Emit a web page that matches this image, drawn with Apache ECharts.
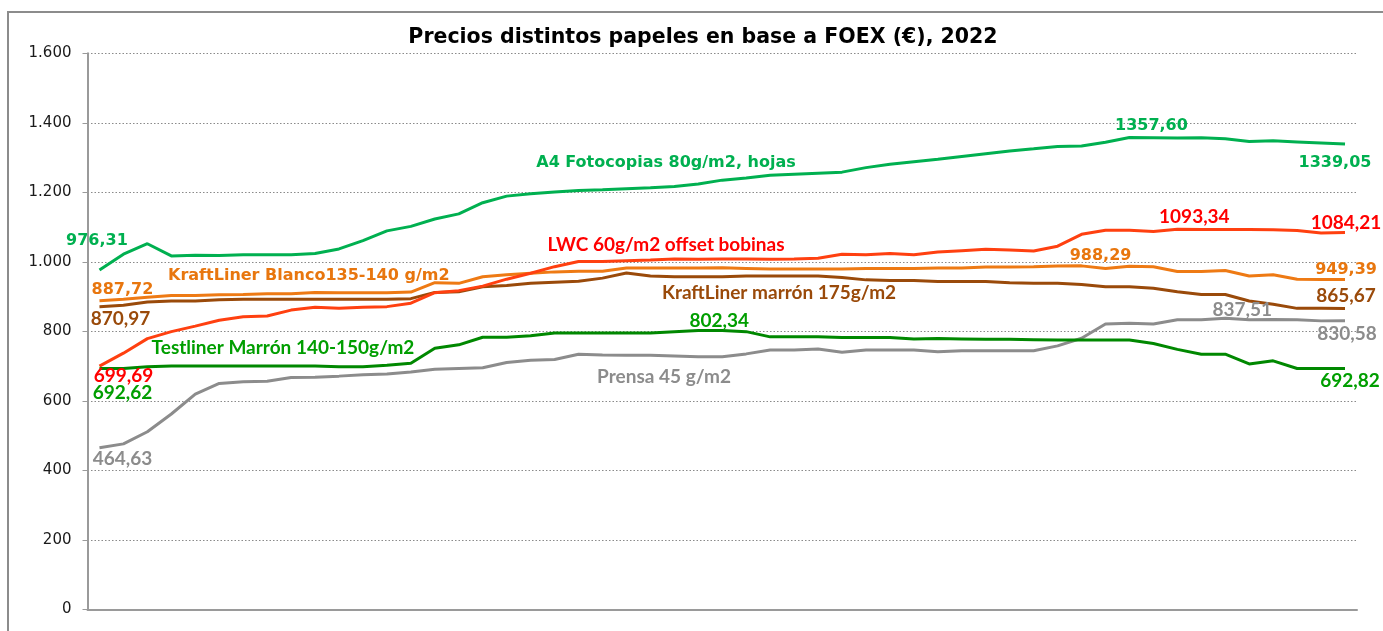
<!DOCTYPE html>
<html>
<head>
<meta charset="utf-8">
<script src="https://cdn.jsdelivr.net/npm/echarts@6/dist/echarts.min.js"></script>
<style>
html,body{margin:0;padding:0;background:#fff;}
#chart{width:1383px;height:631px;}
</style>
</head>
<body>
<div id="chart"></div>
<script>
const categories = ['S1','S2','S3','S4','S5','S6','S7','S8','S9','S10','S11','S12','S13','S14','S15','S16','S17','S18','S19','S20','S21','S22','S23','S24','S25','S26','S27','S28','S29','S30','S31','S32','S33','S34','S35','S36','S37','S38','S39','S40','S41','S42','S43','S44','S45','S46','S47','S48','S49','S50','S51','S52','S53'];

const a4Fotocopias = [976.31,1022,1052,1017,1019,1018,1020,1020,1020,1024,1037,1061,1089,1102,1123,1138,1170,1189,1196,1201,1205,1207,1210,1213,1217,1224,1235,1241,1249,1252,1255,1258,1271,1281,1288,1295,1303,1311,1319,1325,1332,1333,1344,1357.60,1357,1356,1357,1354,1346,1348,1345,1342,1339.05];
const lwc = [699.69,737,779,799,815,832,842,844,861,869,866,869,871,881,911,917,930,950,967,986,1001,1001,1003,1005,1008,1007,1008,1008,1007,1008,1010,1022,1020,1024,1020,1028,1032,1036,1034,1031,1045,1079,1091,1091,1087,1093.34,1093,1093,1093,1092,1090,1083,1084.21];
const kraftBlanco = [887.72,892,898,903,903,905,906,908,908,912,911,911,911,913,940,938,957,963,967,971,973,973,982,982,982,982,983,981,979,979,979,979,981,981,981,982,982,985,985,986,988,988.29,981,987,986,972,972,975,959,963,950,949,949.39];
const kraftMarron = [870.97,875,884,887,887,891,892,892,892,892,892,892,892,894,912,914,928,932,938,941,944,953,968,959,957,957,957,959,959,959,959,955,948,946,946,943,943,943,940,938,938,935,928,928,924,914,906,906,887,878,866,866,865.67];
const testliner = [692.62,693,698,700,700,700,700,700,700,700,698,698,702,708,751,761,783,783,787,795,795,795,795,795,799,802.34,802,799,784,784,784,782,782,782,778,779,778,777,777,776,775,775,775,775,765,748,734,734,706,715,693,693,692.82];
const prensa = [464.63,476,511,562,619,650,655,656,667,668,671,675,677,683,691,693,695,710,717,719,734,732,731,731,729,727,727,735,746,746,749,740,746,746,746,741,744,744,744,744,758,780,821,823,821,833,833,837.51,833,834,833,830,830.58];

const yTicks = [0,200,400,600,800,1000,1200,1400,1600];

const VERD = '"DejaVu Sans", Verdana, sans-serif';
const CALI = 'Lato, "Open Sans", sans-serif';
const CS = 19;

function fmtNum(v){ return v.toFixed(2).replace('.', ','); }
function fmtTick(v){ return v >= 1000 ? Math.floor(v/1000) + '.' + String(v % 1000).padStart(3,'0') : String(v); }

function mp(data, idx, off, color, family, size){
  return {
    coord: [idx, data[idx]], value: data[idx],
    label: {offset: off, color: color, fontFamily: family, fontSize: size, fontWeight: 'bold'}
  };
}
function markPts(items){
  return {
    symbol: 'circle', symbolSize: 1, silent: true, animation: false,
    itemStyle: {color: 'rgba(0,0,0,0)'},
    label: {show: true, position: 'inside', fontWeight: 'bold', formatter: p => fmtNum(p.value)},
    data: items
  };
}

const cA4 = '#00B050', cLWC = '#FF4010', cRed = '#FF0000', cBl = '#EE7A14', cBlT = '#E8760E',
      cMa = '#9A4A0A', cTe = '#008800', cTeT = '#009E00', cPr = '#8C8C8C';

function line(name, data, color, marks){
  return {
    name: name, type: 'line', data: data, symbol: 'none', smooth: false,
    lineStyle: {color: color, width: 3}, itemStyle: {color: color},
    markPoint: markPts(marks)
  };
}

const chart = echarts.init(document.getElementById('chart'), null, {renderer: 'canvas'});
chart.setOption({
  animation: false,
  backgroundColor: '#ffffff',
  title: {
    text: 'Precios distintos papeles en base a FOEX (€), 2022',
    left: 698, top: 22, textAlign: 'center',
    textStyle: {fontFamily: VERD, fontWeight: 'bold', fontSize: 20.5, color: '#000'}
  },
  grid: {left: 87.5, right: 26, top: 53.3, bottom: 21.7},
  xAxis: {
    type: 'category', data: categories, boundaryGap: true,
    axisLine: {lineStyle: {color: '#9a9a9a', width: 2}},
    axisTick: {show: false}, axisLabel: {show: false}, splitLine: {show: false}
  },
  yAxis: {
    type: 'value', min: yTicks[0], max: yTicks[yTicks.length-1], interval: 200,
    axisLine: {show: true, lineStyle: {color: '#9a9a9a', width: 2}},
    axisTick: {show: true, length: 5, lineStyle: {color: '#9a9a9a', width: 1}},
    axisLabel: {margin: 16, formatter: fmtTick, fontFamily: VERD, fontSize: 15, color: '#1a1a1a'},
    splitLine: {show: true, lineStyle: {type: [1.5, 2], color: '#8a8a8a', width: 1.2}}
  },
  graphic: [
    {type: 'rect', silent: true, z: -1, shape: {x: 8, y: 12, width: 1500, height: 800},
     style: {fill: 'none', stroke: '#8c8c8c', lineWidth: 2}},
    {type: 'text', x: 666, y: 163, silent: true,
     style: {text: 'A4 Fotocopias 80g/m2, hojas', fill: cA4, font: 'bold 16px ' + VERD, textAlign: 'center', textVerticalAlign: 'middle'}},
    {type: 'text', x: 666, y: 245, silent: true,
     style: {text: 'LWC 60g/m2 offset bobinas', fill: cRed, font: 'bold ' + CS + 'px ' + CALI, textAlign: 'center', textVerticalAlign: 'middle'}},
    {type: 'text', x: 168, y: 276, silent: true,
     style: {text: 'KraftLiner Blanco135-140 g/m2', fill: cBlT, font: 'bold 16px ' + VERD, textAlign: 'left', textVerticalAlign: 'middle'}},
    {type: 'text', x: 779, y: 293, silent: true,
     style: {text: 'KraftLiner marrón 175g/m2', fill: cMa, font: 'bold ' + CS + 'px ' + CALI, textAlign: 'center', textVerticalAlign: 'middle'}},
    {type: 'text', x: 283, y: 348, silent: true,
     style: {text: 'Testliner Marrón 140-150g/m2', fill: cTeT, font: 'bold ' + CS + 'px ' + CALI, textAlign: 'center', textVerticalAlign: 'middle'}},
    {type: 'text', x: 664, y: 377, silent: true,
     style: {text: 'Prensa 45 g/m2', fill: cPr, font: 'bold ' + CS + 'px ' + CALI, textAlign: 'center', textVerticalAlign: 'middle'}}
  ],
  series: [
    line('Prensa 45 g/m2', prensa, cPr, [
      mp(prensa, 0, [23, 11], cPr, CALI, CS),
      mp(prensa, 47, [17, -8], cPr, CALI, CS),
      mp(prensa, 52, [2, 13], cPr, CALI, CS)
    ]),
    line('Testliner Marrón 140-150g/m2', testliner, cTe, [
      mp(testliner, 0, [23, 24], cTeT, CALI, CS),
      mp(testliner, 25, [21, -10], cTeT, CALI, CS),
      mp(testliner, 52, [5, 12], cTeT, CALI, CS)
    ]),
    line('KraftLiner marrón 175g/m2', kraftMarron, cMa, [
      mp(kraftMarron, 0, [21, 12], cMa, CALI, CS),
      mp(kraftMarron, 52, [1, -13], cMa, CALI, CS)
    ]),
    line('KraftLiner Blanco135-140 g/m2', kraftBlanco, cBl, [
      mp(kraftBlanco, 0, [23, -11], cBlT, VERD, 16),
      mp(kraftBlanco, 41, [19, -10], cBlT, VERD, 16),
      mp(kraftBlanco, 52, [1, -10], cBlT, VERD, 16)
    ]),
    line('LWC 60g/m2 offset bobinas', lwc, cLWC, [
      mp(lwc, 0, [24, 10], cRed, CALI, CS),
      mp(lwc, 45, [17, -12], cRed, CALI, CS),
      mp(lwc, 52, [1, -10], cRed, CALI, CS)
    ]),
    line('A4 Fotocopias 80g/m2, hojas', a4Fotocopias, cA4, [
      mp(a4Fotocopias, 0, [-2.5, -29], cA4, VERD, 16),
      mp(a4Fotocopias, 43, [22, -12], cA4, VERD, 16),
      mp(a4Fotocopias, 52, [-10, 19], cA4, VERD, 16)
    ])
  ]
});
</script>
</body>
</html>
